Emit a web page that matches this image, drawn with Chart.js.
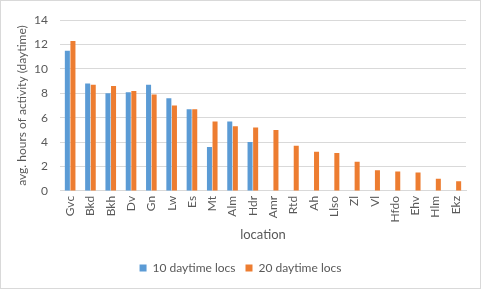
<!DOCTYPE html>
<html>
<head>
<meta charset="utf-8">
<script src="https://cdn.jsdelivr.net/npm/chart.js@4"></script>
<style>
  body { margin: 0; background: #fff; }
  #wrap { width: 479px; height: 287px; border: 1px solid #d9d9d9; }
</style>
</head>
<body>
<div id="wrap"><canvas id="chart" width="479" height="287"></canvas></div>
<script>
const locations = ["Gvc", "Bkd", "Bkh", "Dv", "Gn", "Lw", "Es", "Mt", "Alm", "Hdr",
    "Amr", "Rtd", "Ah", "Llso", "Zl", "Vl", "Hfdo", "Ehv", "Hlm", "Ekz"];
const locs10 = [11.5, 8.8, 8.0, 8.1, 8.7, 7.6, 6.7, 3.6, 5.7, 4.0,
    null, null, null, null, null, null, null, null, null, null];
const locs20 = [12.3, 8.7, 8.6, 8.2, 7.9, 7.0, 6.7, 5.7, 5.3, 5.2,
    5.0, 3.7, 3.2, 3.1, 2.4, 1.7, 1.6, 1.5, 1.0, 0.8];
const yTicks = [0, 2, 4, 6, 8, 10, 12, 14];

const font = "Lato, 'Open Sans', sans-serif";
const grey = "#595959";

let ctx = document.getElementById("chart").getContext("2d");
let chart = new Chart(ctx, {
    type: "bar",
    data: {
        labels: locations,
        datasets: [
            {
                label: "10 daytime locs",
                data: locs10,
                backgroundColor: "#5b9bd5",
                categoryPercentage: 0.55,
                barPercentage: 0.9,
            },
            {
                label: "20 daytime locs",
                data: locs20,
                backgroundColor: "#ed7d31",
                categoryPercentage: 0.55,
                barPercentage: 0.9,
            },
        ],
    },
    options: {
        responsive: false,
        animation: false,
        layout: { padding: { left: 14, right: 14, top: 8, bottom: 4 } },
        plugins: {
            tooltip: { enabled: false },
            legend: {
                position: "bottom",
                labels: {
                    boxWidth: 7,
                    boxHeight: 7,
                    padding: 10,
                    color: grey,
                    font: { family: font, size: 12 },
                },
            },
        },
        scales: {
            x: {
                grid: { display: false, drawTicks: false },
                border: { color: "#d9d9d9" },
                ticks: {
                    color: grey,
                    minRotation: 90,
                    maxRotation: 90,
                    padding: 5,
                    font: { family: font, size: 12 },
                },
                title: {
                    display: true,
                    text: "location",
                    color: grey,
                    padding: { top: 0, bottom: 9 },
                    font: { family: font, size: 13 },
                },
            },
            y: {
                min: 0,
                max: 14,
                afterBuildTicks: (axis) => {
                    axis.ticks = yTicks.map(v => ({ value: v }));
                },
                afterFit: (axis) => {
                    axis.width = 45;
                },
                grid: { color: "#d9d9d9", drawTicks: false },
                border: { display: false },
                ticks: {
                    color: grey,
                    padding: 12,
                    font: { family: font, size: 12 },
                },
                title: {
                    display: true,
                    text: "avg. hours of activity (daytime)",
                    color: grey,
                    padding: { top: 0, bottom: 0 },
                    font: { family: font, size: 12 },
                },
            },
        },
    },
});
</script>
</body>
</html>
